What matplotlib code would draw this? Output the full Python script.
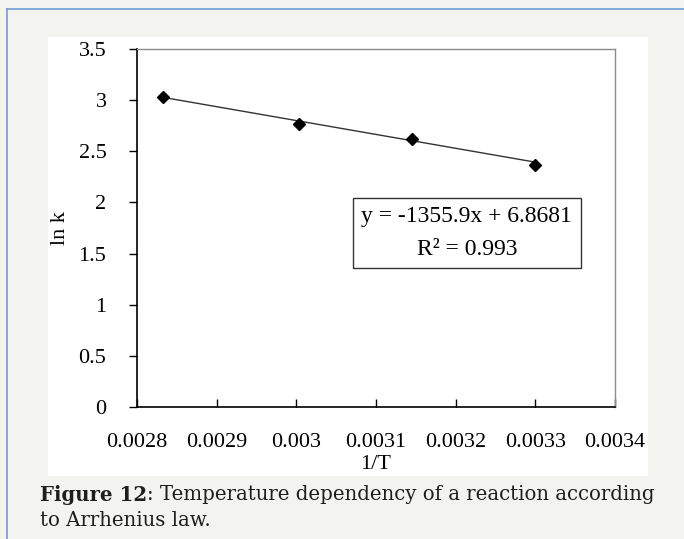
import matplotlib
matplotlib.use('Agg')
import matplotlib.pyplot as plt
from matplotlib.patches import Rectangle
from matplotlib.lines import Line2D

# data
inv_T = [0.002833, 0.003003, 0.003145, 0.0033]
ln_k = [3.03, 2.77, 2.62, 2.37]
fit_slope = -1355.9
fit_icpt = 6.8681
x_ticks = [0.0028, 0.0029, 0.003, 0.0031, 0.0032, 0.0033, 0.0034]
x_labels = ['0.0028', '0.0029', '0.003', '0.0031', '0.0032', '0.0033', '0.0034']
y_ticks = [0, 0.5, 1, 1.5, 2, 2.5, 3, 3.5]
y_labels = ['0', '0.5', '1', '1.5', '2', '2.5', '3', '3.5']

serif = 'Liberation Serif'

fig = plt.figure(figsize=(6.84, 5.39), dpi=100)
fig.patch.set_facecolor('#f3f3ef')

W, H = 684, 539
def fx(px):
    return px / W
def fy(py):
    return 1 - py / H

# blue frame on top / left
fig.add_artist(Line2D([fx(7), 1], [fy(9), fy(9)], color='#6c9fd6', lw=1.2))
fig.add_artist(Line2D([fx(7), fx(7)], [0, fy(9)], color='#6c9fd6', lw=1.2))

# white panel behind the chart
fig.add_artist(Rectangle((fx(48), fy(476)), fx(648) - fx(48), fy(37) - fy(476),
                         transform=fig.transFigure, facecolor='white', edgecolor='none', zorder=0))

ax = fig.add_axes([fx(137), fy(407), fx(615) - fx(137), fy(49) - fy(407)])
ax.set_facecolor('white')

xs = [min(inv_T), max(inv_T)]
ax.plot(xs, [fit_slope * x + fit_icpt for x in xs], color='#333333', lw=1)
ax.plot(inv_T, ln_k, 'D', color='black', markersize=6)

ax.set_xlim(0.0028, 0.0034)
ax.set_ylim(0, 3.5)
ax.set_xticks(x_ticks)
ax.set_xticklabels(x_labels, family=serif, fontsize=16)
ax.set_yticks(y_ticks)
ax.set_yticklabels(y_labels, family=serif, fontsize=16)
ax.tick_params(axis='x', direction='in', length=6, pad=19, width=1)
ax.tick_params(axis='y', direction='out', length=6, pad=16, width=1)
for s in ['left', 'bottom']:
    ax.spines[s].set_color('black')
    ax.spines[s].set_linewidth(1.2)
for s in ['top', 'right']:
    ax.spines[s].set_color('#8c8c8c')
    ax.spines[s].set_linewidth(1)

ax.set_xlabel('1/T', family=serif, fontsize=16, labelpad=2)
ax.set_ylabel('ln k', family=serif, fontsize=16, labelpad=6)

ax.text(0.69, 0.486, 'y = -1355.9x + 6.8681\nR² = 0.993', transform=ax.transAxes,
        ha='center', va='center', family=serif, fontsize=17, linespacing=1.75,
        bbox=dict(boxstyle='square,pad=0.35', facecolor='white', edgecolor='#333333', lw=1))

# caption
cap_color = '#1e1e1e'
bold = fig.text(fx(40), fy(495), 'Figure 12', family='DejaVu Serif', fontweight='bold',
                fontsize=14.2, va='center', color=cap_color)
fig.canvas.draw()
bb = bold.get_window_extent()
fig.text(bb.x1 / fig.bbox.width, fy(495), ': Temperature dependency of a reaction according',
         family='DejaVu Serif', fontsize=14.2, va='center', color=cap_color)
fig.text(fx(40), fy(521), 'to Arrhenius law.', family='DejaVu Serif', fontsize=14.2,
         va='center', color=cap_color)

plt.savefig('out.png', dpi=100, facecolor=fig.get_facecolor())
